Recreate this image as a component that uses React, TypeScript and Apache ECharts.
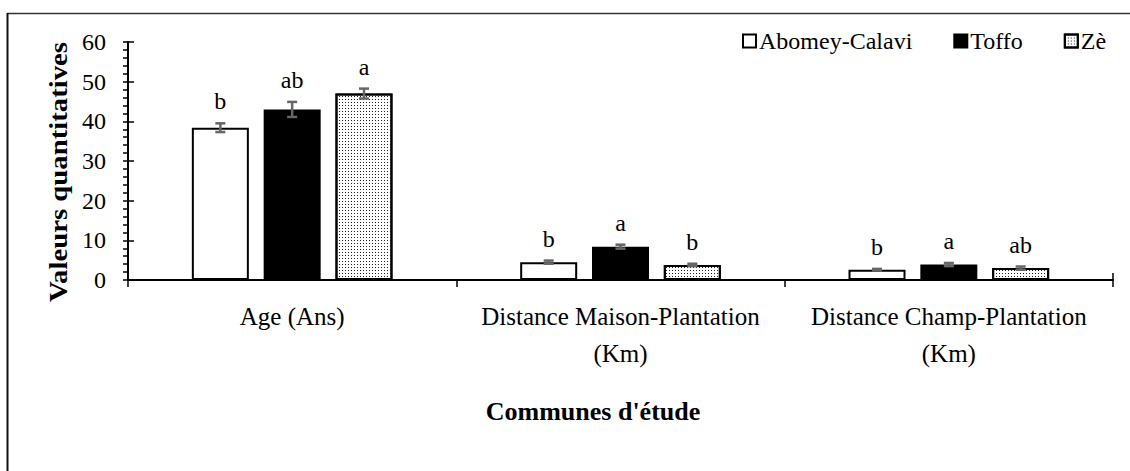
import React, { useEffect, useRef } from "react";
import * as echarts from "echarts";

const categories = ["Age (Ans)", "Distance Maison-Plantation\n(Km)", "Distance Champ-Plantation\n(Km)"];
const seriesNames = ["Abomey-Calavi", "Toffo", "Zè"];
const abomeyValues = [38.4, 4.5, 2.6];
const toffoValues = [43.0, 8.4, 3.9];
const zeValues = [47.0, 3.8, 3.0];
const abomeyErr = [1.1, 0.4, 0.2];
const toffoErr = [1.9, 0.5, 0.4];
const zeErr = [1.25, 0.3, 0.4];
const abomeyLetters = ["b", "b", "b"];
const toffoLetters = ["ab", "a", "a"];
const zeLetters = ["a", "b", "ab"];
const yTicks = { min: 0, max: 60, interval: 10 };

const FONT = "'Liberation Serif', 'Times New Roman', serif";
const BAR_WIDTH = 57;
const BAR_GAP = 0.26;

export default function App() {
  const ref = useRef<HTMLDivElement>(null);
  useEffect(() => {
    if (!ref.current) return;
    const chart = echarts.init(ref.current, null, { renderer: "svg" });

    const barStyles = [
      { color: "#fff", borderColor: "#000", borderWidth: 2 },
      { color: "#000", borderColor: "#000", borderWidth: 2 },
      {
        color: "#fff",
        borderColor: "#000",
        borderWidth: 2,
        decal: {
          symbol: "rect",
          symbolSize: 1,
          dashArrayX: [1, 2],
          dashArrayY: [1, 2],
          color: "#222",
          rotation: 0,
        },
      },
    ];
    const values = [abomeyValues, toffoValues, zeValues];
    const errs = [abomeyErr, toffoErr, zeErr];
    const letters = [abomeyLetters, toffoLetters, zeLetters];

    const barSeries = values.map((v, i) => ({
      name: seriesNames[i],
      type: "bar",
      barWidth: BAR_WIDTH,
      barGap: BAR_GAP * 100 + "%",
      data: v,
      itemStyle: barStyles[i],
      z: 2,
    }));

    const errSeries = values.map((v, i) => ({
      name: "err" + i,
      type: "custom",
      z: 5,
      silent: true,
      data: v.map((val, j) => [j, val, errs[i][j]]),
      encode: { x: 0, y: 1 },
      renderItem: (params: any, api: any) => {
        const j = api.value(0);
        const val = api.value(1);
        const e = api.value(2);
        const off = (i - 1) * BAR_WIDTH * (1 + BAR_GAP);
        const top = api.coord([j, val + e]);
        const bot = api.coord([j, val - e]);
        const x = top[0] + off;
        const cap = 5;
        const ls = { stroke: "#666", lineWidth: 2.5 };
        return {
          type: "group",
          children: [
            { type: "line", shape: { x1: x, y1: top[1], x2: x, y2: bot[1] }, style: ls },
            { type: "line", shape: { x1: x - cap, y1: top[1], x2: x + cap, y2: top[1] }, style: ls },
            { type: "line", shape: { x1: x - cap, y1: bot[1], x2: x + cap, y2: bot[1] }, style: ls },
            {
              type: "text",
              x: x,
              y: top[1] - 22,
              style: {
                text: letters[i][params.dataIndex],
                fontFamily: FONT,
                fontSize: 24,
                fill: "#000",
                align: "center",
                verticalAlign: "middle",
              },
            },
          ],
        };
      },
    }));

    const option: any = {
      animation: false,
      backgroundColor: "#fff",
      grid: { left: 128, right: 17, top: 42, bottom: 191, containLabel: false },
      legend: {
        data: seriesNames,
        left: 737,
        top: 24,
        icon: "rect",
        itemWidth: 13,
        itemHeight: 13,
        itemGap: 41,
        selectedMode: false,
        textStyle: { fontFamily: FONT, fontSize: 24, color: "#000", padding: [0, 0, 0, -2] },
      },
      xAxis: {
        type: "category",
        data: categories,
        axisLine: { show: true, lineStyle: { color: "#000", width: 2 } },
        axisTick: { show: true, length: 7, interval: 0, lineStyle: { color: "#000", width: 1.5 } },
        axisLabel: {
          interval: 0,
          fontFamily: FONT,
          fontSize: 25,
          lineHeight: 37,
          margin: 18,
          color: "#000",
        },
        splitLine: { show: false },
      },
      yAxis: [
        {
          type: "value",
          min: yTicks.min,
          max: yTicks.max,
          interval: yTicks.interval,
          axisLine: { show: true, lineStyle: { color: "#000", width: 2 } },
          axisTick: { show: true, length: 5, lineStyle: { color: "#000", width: 1.5 } },
          minorTick: { show: true, splitNumber: 5, length: 5, lineStyle: { color: "#000", width: 1.5 } },
          splitLine: { show: false },
          minorSplitLine: { show: false },
          axisLabel: { fontFamily: FONT, fontSize: 24, color: "#000", margin: 22 },
        },
        {
          type: "value",
          position: "left",
          min: yTicks.min,
          max: yTicks.max,
          interval: yTicks.interval,
          axisLine: { show: false },
          axisTick: { show: true, inside: true, length: 6, lineStyle: { color: "#000", width: 1.5 } },
          axisLabel: { show: false },
          splitLine: { show: false },
        },
      ],
      graphic: [
        { type: "line", shape: { x1: 7, y1: 13.5, x2: 1130, y2: 13.5 }, style: { stroke: "#333", lineWidth: 1.5 } },
        { type: "line", shape: { x1: 7.5, y1: 13, x2: 7.5, y2: 471 }, style: { stroke: "#111", lineWidth: 2 } },
        { type: "line", shape: { x1: 1113, y1: 273, x2: 1113, y2: 280 }, style: { stroke: "#000", lineWidth: 1.5 } },
        {
          type: "text",
          x: 59,
          y: 172,
          rotation: Math.PI / 2,
          scaleX: 1.15,
          style: {
            text: "Valeurs quantitatives",
            fontFamily: FONT,
            fontWeight: "bold",
            fontSize: 25,
            fill: "#000",
            align: "center",
            verticalAlign: "middle",
          },
        },
        {
          type: "text",
          x: 593,
          y: 411,
          style: {
            text: "Communes d'étude",
            fontFamily: FONT,
            fontWeight: "bold",
            fontSize: 26,
            fill: "#000",
            align: "center",
            verticalAlign: "middle",
          },
        },
      ],
      series: [...barSeries, ...errSeries],
    };
    chart.setOption(option);
    return () => chart.dispose();
  }, []);
  return (
    <div
      ref={ref}
      style={{ position: "fixed", left: 0, top: 0, width: 1130, height: 471, background: "#fff" }}
    />
  );
}
